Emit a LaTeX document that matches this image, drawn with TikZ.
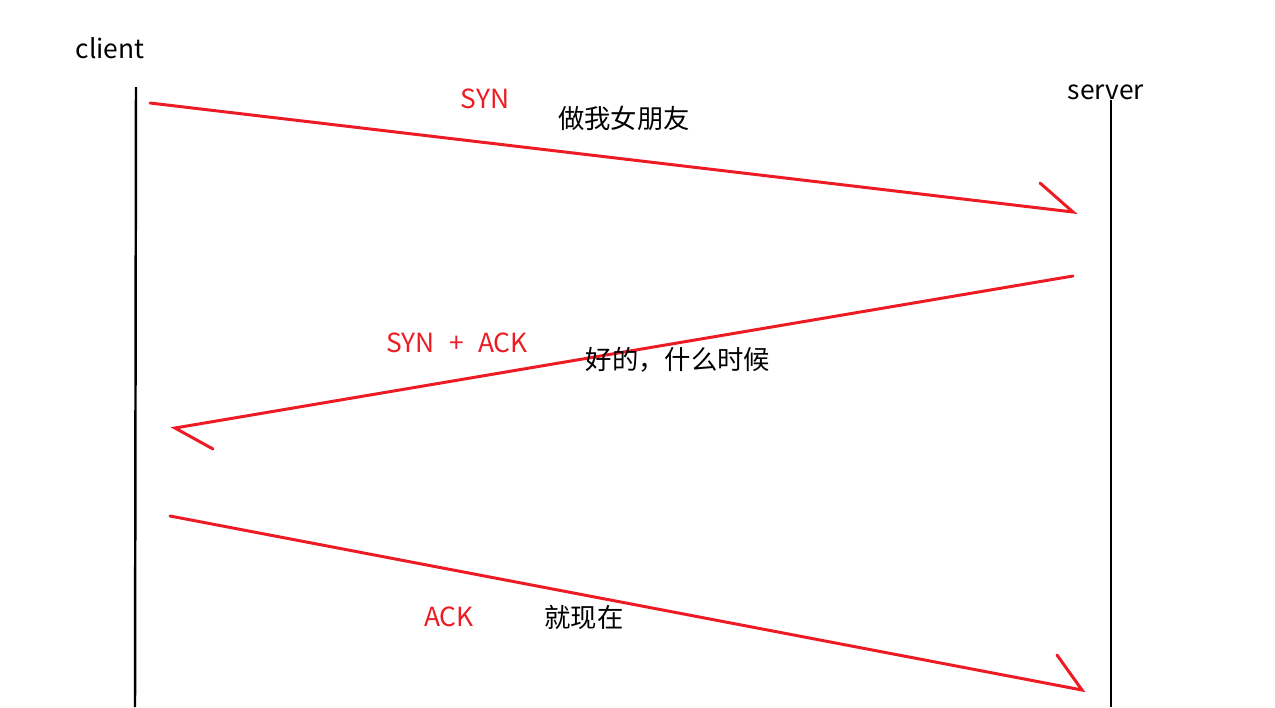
\documentclass[tikz,border=0pt]{standalone}
\usepackage{fontspec}
\setmainfont{Noto Sans CJK SC}
\usepackage{tikz}
\definecolor{pen}{RGB}{237,28,36}

\begin{document}
\begin{tikzpicture}[x=0.02cm,y=-0.02cm,line width=1.4pt,
  msg/.style={draw=pen,line width=1.7pt,line cap=round},
  lbl/.style={inner sep=0pt,font=\fontsize{15}{18}\selectfont},
  tag/.style={lbl,text=pen}]
  \useasboundingbox (0,0) rectangle (1275,707);
  % the two sides
  \node[lbl] (cli) at (110,48) {client};
  \node[lbl] (srv) at (1106,92) {server};
  \coordinate (c0) at (136,87);   \coordinate (c1) at (135,707);
  \coordinate (s0) at (1111,100); \coordinate (s1) at (1111,707);
  \draw (c0) -- (c1);
  \draw (s0) -- (s1);
  % first message
  \coordinate (a0) at (150,103);  \coordinate (a1) at (1073,212);
  \coordinate (ah) at (1040,183);
  \draw[msg] (a0) -- (a1) -- (ah);
  \node[tag] (syn) at (485,99) {SYN};
  \node[lbl] (ask) at (624,118) {做我女朋友};
  % second message
  \coordinate (b0) at (1073,276); \coordinate (b1) at (175,428);
  \coordinate (bh) at (213,449);
  \draw[msg] (b0) -- (b1) -- (bh);
  \node[tag] (synack) at (457,343) {SYN\hspace{0.55em}+\hspace{0.55em}ACK};
  \node[lbl] (yes) at (678,360) {好的，什么时候};
  % third message
  \coordinate (d0) at (170,516);  \coordinate (d1) at (1082,690);
  \coordinate (dh) at (1057,655);
  \draw[msg] (d0) -- (d1) -- (dh);
  \node[tag] (ack) at (449,617) {ACK};
  \node[lbl] (now) at (584,617) {就现在};
\end{tikzpicture}
\end{document}
